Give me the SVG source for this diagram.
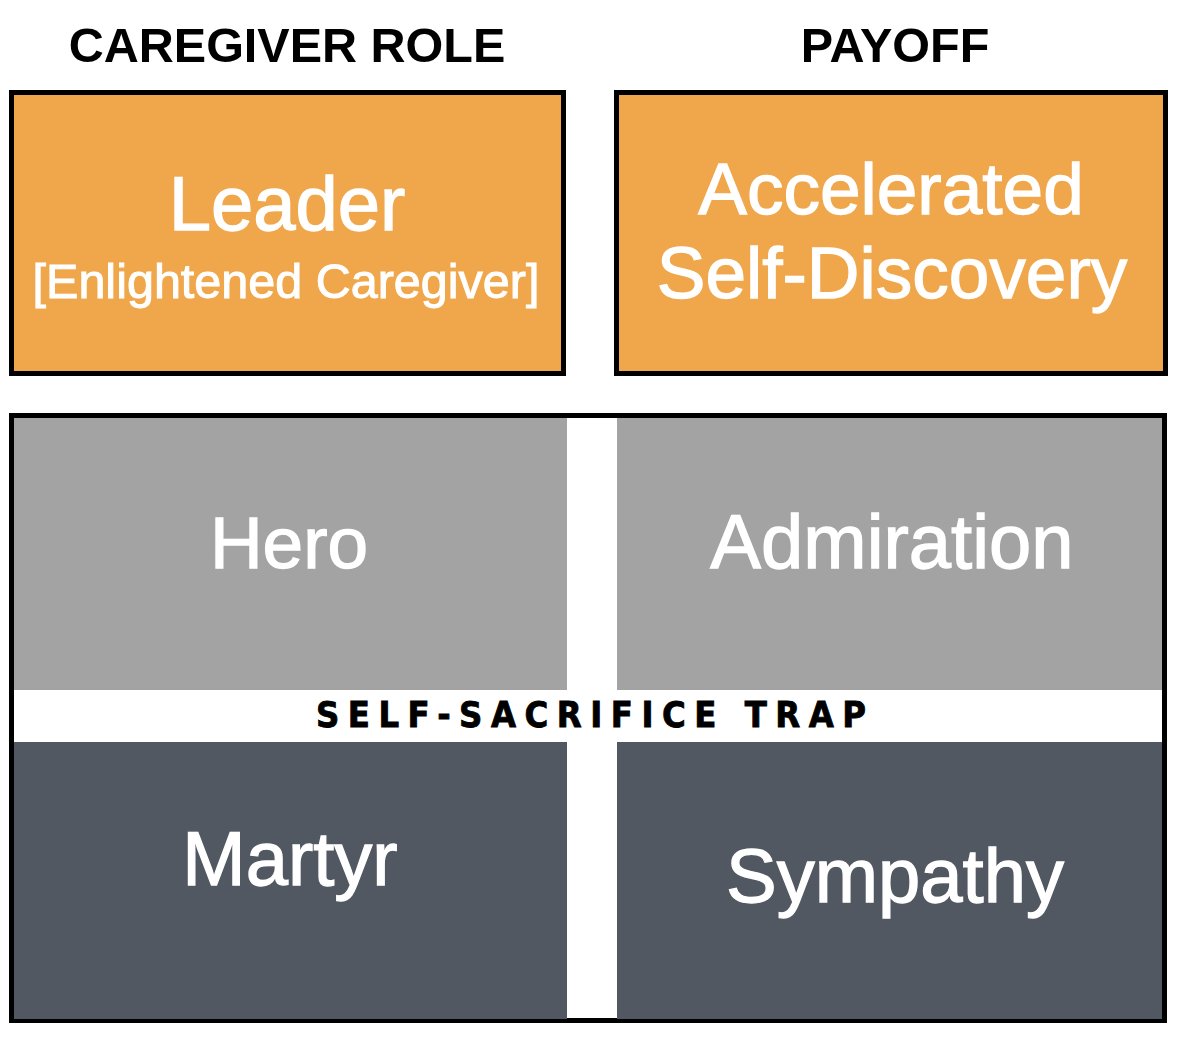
<svg xmlns="http://www.w3.org/2000/svg" width="1178" height="1043" viewBox="0 0 1178 1043">
<style>
.hdr{font-family:"Liberation Sans",Arial,sans-serif;font-weight:bold;font-size:48.5px;fill:#000;text-anchor:middle}
.lbl{font-family:"Liberation Sans",Arial,sans-serif;fill:#fff;stroke:#fff;stroke-width:1.3px;text-anchor:middle}
.orange{fill:#F0A64A;stroke:#000;stroke-width:5}
.light{fill:#A3A3A3}
.dark{fill:#525861}
.trap{font-family:"Liberation Sans Narrow","DejaVu Sans Condensed",sans-serif;font-weight:bold;font-size:36px;fill:#000;stroke:#000;stroke-width:0.8px;text-anchor:middle}
</style>
<rect width="1178" height="1043" fill="#fff"/>
<g id="headers">
<text class="hdr" x="287" y="62">CAREGIVER ROLE</text>
<text class="hdr" x="895" y="62">PAYOFF</text>
</g>
<g id="leader">
<rect class="orange" x="11.5" y="92.5" width="552" height="281"/>
<text class="lbl" x="287" y="230" font-size="76">Leader</text>
<text class="lbl" x="286" y="298" font-size="48.5" style="stroke-width:1px">[Enlightened Caregiver]</text>
</g>
<g id="accelerated">
<rect class="orange" x="616.5" y="92.5" width="549" height="281"/>
<text class="lbl" x="891" y="214" font-size="73">Accelerated</text>
<text class="lbl" x="892" y="298" font-size="73">Self-Discovery</text>
</g>
<g id="trap-frame">
<rect x="11.5" y="415.5" width="1153" height="605" fill="#fff" stroke="#000" stroke-width="5"/>
</g>
<g id="hero">
<rect class="light" x="14" y="418" width="553" height="272"/>
<text class="lbl" x="289" y="568" font-size="73">Hero</text>
</g>
<g id="admiration">
<rect class="light" x="617" y="418" width="545" height="272"/>
<text class="lbl" x="892" y="568" font-size="76">Admiration</text>
</g>
<g id="martyr">
<rect class="dark" x="14" y="742" width="553" height="277"/>
<text class="lbl" x="290" y="885" font-size="76">Martyr</text>
</g>
<g id="sympathy">
<rect class="dark" x="617" y="742" width="545" height="277"/>
<text class="lbl" x="895" y="902" font-size="76">Sympathy</text>
</g>
<g id="trap-label">
<text class="trap" x="591" y="727" textLength="550" lengthAdjust="spacing">SELF-SACRIFICE TRAP</text>
</g>
<g id="connectors"></g>
</svg>
